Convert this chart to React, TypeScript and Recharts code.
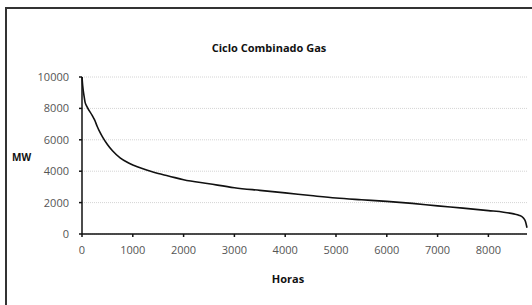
import React from "react"
import { LineChart, Line, XAxis, YAxis, CartesianGrid } from "recharts"

// curva monótona de carga - horas vs MW
const horas = [0, 15, 40, 60, 100, 200, 250, 300, 350, 400, 500, 600, 750, 900, 1000, 1200, 1350, 1500, 1700, 2000, 2500, 3000, 3500, 4000, 4500, 5000, 5500, 6000, 6500, 7000, 7500, 8000, 8300, 8500, 8600, 8680, 8730, 8760]
const mw = [10000, 9400, 8800, 8400, 8100, 7550, 7250, 6850, 6500, 6200, 5700, 5300, 4850, 4550, 4400, 4150, 3990, 3850, 3700, 3450, 3200, 2950, 2780, 2620, 2450, 2290, 2180, 2080, 1950, 1790, 1650, 1490, 1390, 1280, 1200, 1050, 800, 400]

const xTicks = [0, 1000, 2000, 3000, 4000, 5000, 6000, 7000, 8000]
const yTicks = [0, 2000, 4000, 6000, 8000, 10000]

const data = horas.map((h, i) => ({ horas: h, mw: mw[i] }))

const font = "'Open Sans', sans-serif"

export default function App() {
    return (
        <div style={{ position: "absolute", left: 0, top: 0, width: 532, height: 305, background: "#fff", fontFamily: font }}>
            <div style={{ position: "absolute", left: 5, top: 7, width: 540, height: 310, borderTop: "2px solid #333", borderLeft: "2px solid #333" }} />
            <LineChart width={532} height={305} data={data} margin={{ top: 77, right: 5, left: 0, bottom: 0 }}>
                <CartesianGrid vertical={false} stroke="#d4d4d4" strokeDasharray="1 1" />
                <XAxis
                    dataKey="horas"
                    type="number"
                    domain={[0, 8760]}
                    ticks={xTicks}
                    height={71}
                    stroke="#111"
                    strokeWidth={1.5}
                    tickSize={3}
                    tickMargin={9}
                    tick={{ fill: "#555", fontSize: 11, fontFamily: font }}
                />
                <YAxis
                    type="number"
                    domain={[0, 10000]}
                    ticks={yTicks}
                    width={82}
                    stroke="#111"
                    strokeWidth={1.5}
                    tickSize={3}
                    tickMargin={10}
                    tick={{ fill: "#555", fontSize: 11, fontFamily: font }}
                />
                <Line type="monotone" dataKey="mw" stroke="#111" strokeWidth={1.6} dot={false} isAnimationActive={false} />
            </LineChart>
            <div style={{ position: "absolute", left: 0, width: 538, top: 40, textAlign: "center", fontSize: 11, fontWeight: 700, color: "#111" }}>Ciclo Combinado Gas</div>
            <div style={{ position: "absolute", left: 12, top: 150, fontSize: 10, fontWeight: 700, color: "#111" }}>MW</div>
            <div style={{ position: "absolute", left: 0, width: 576, top: 271, textAlign: "center", fontSize: 11, fontWeight: 700, color: "#111" }}>Horas</div>
        </div>
    )
}
